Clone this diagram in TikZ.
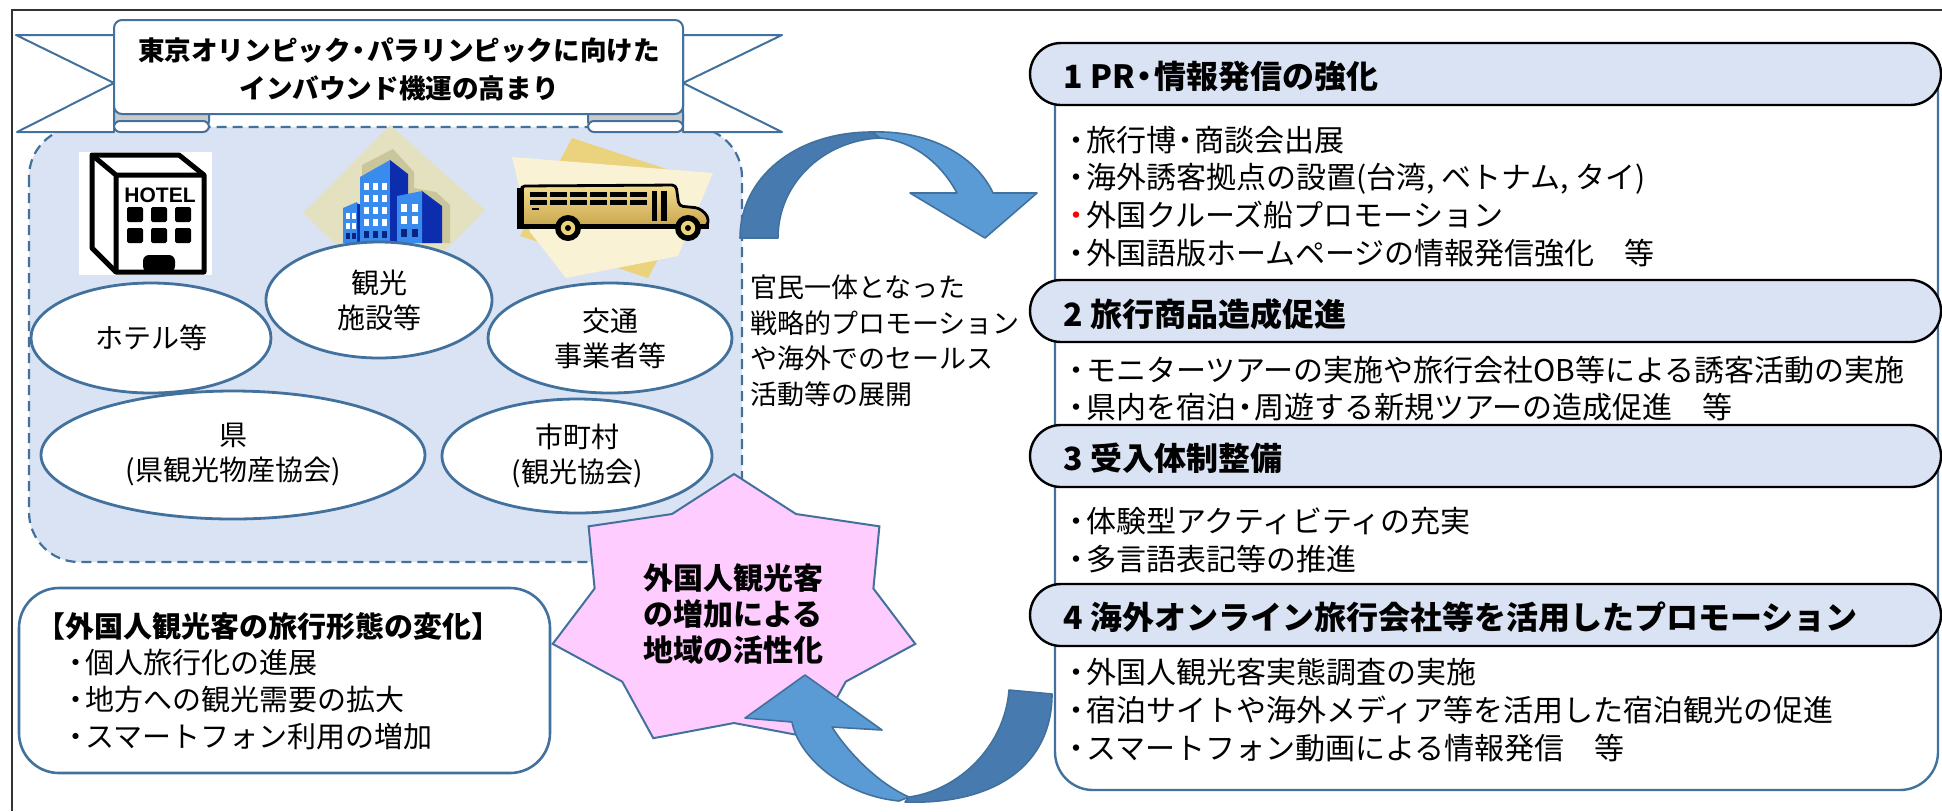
\documentclass[tikz,border=0pt]{standalone}
\usepackage{fontspec}
\setmainfont{Noto Sans CJK JP}
\newfontfamily\signfont{Liberation Sans}
\usetikzlibrary{shapes.geometric}

\definecolor{edgeblue}{HTML}{41719C}
\definecolor{paleblue}{HTML}{DAE3F3}
\definecolor{arrowlight}{HTML}{5B9BD5}
\definecolor{arrowdark}{HTML}{477BB0}
\definecolor{starpink}{HTML}{FFCCFF}
\definecolor{rollgrey}{HTML}{C9C9C9}
\definecolor{citybeige}{HTML}{E3E1BF}
\definecolor{cityshade}{HTML}{CAC69C}
\definecolor{cityfront}{HTML}{3A8BEE}
\definecolor{cityside}{HTML}{0B2DAE}
\definecolor{citywin}{HTML}{0A237F}
\definecolor{busgold}{HTML}{EBD27C}
\definecolor{buscream}{HTML}{FAF2D5}
\definecolor{bustop}{HTML}{F3DD90}
\definecolor{busbottom}{HTML}{C9A64E}

% narrow middle dot used for bullets and separators
\newcommand{\ndot}{\makebox[0.62em][c]{・}}

\tikzset{
  outline/.style={draw=edgeblue, line width=1pt},
  panel/.style={draw=edgeblue, fill=paleblue, line width=1.1pt,
    dash pattern=on 5pt off 3pt, rounded corners=25pt},
  spot/.style={ellipse, draw=edgeblue, line width=1.4pt, fill=white,
    inner sep=0pt, align=center, font=\fontsize{14pt}{17.5pt}\selectfont},
  headerbox/.style={draw=black, line width=1.2pt, fill=paleblue, rounded corners=15.5pt},
  headtext/.style={anchor=west, inner sep=0pt, font=\bfseries\fontsize{16pt}{19pt}\selectfont},
  itemtext/.style={anchor=west, inner sep=0pt, align=left,
    font=\fontsize{15pt}{18.8pt}\selectfont},
  arrowpart/.style={draw=edgeblue, line width=0.8pt, line join=round},
}

\begin{document}
\begin{tikzpicture}[x=0.5pt,y=-0.5pt]
\useasboundingbox (0,0) rectangle (1942,811);

% page frame
\draw[line width=1pt, black!80] (12,811) -- (12,10) -- (1942,10);

% stakeholder panel
\draw[panel] (29,127) rectangle (742,562);

% hotel icon
\fill[white] (79,152) rectangle (212,275);
\draw[line width=2.5pt, line join=round] (92,155) -- (179,155) -- (204,175) -- (204,272) -- (116,272) -- (92,248) -- cycle;
\draw[line width=2.5pt, line join=round] (92,155) -- (116,175) -- (204,175) (116,175) -- (116,272);
\node[font=\signfont\bfseries\fontsize{10.5pt}{10.5pt}\selectfont, inner sep=0pt] (hotelsign) at (160,195) {HOTEL};
\foreach \wx in {127,151,175} \foreach \wy in {207,228}
  \fill[rounded corners=0.8pt] ({\wx},{\wy}) rectangle ({\wx+16},{\wy+15});
\fill[rounded corners=3pt] (143,272) -- (143,255) -- (175,255) -- (175,272) -- cycle;

% city buildings
\fill[citybeige] (390,125) -- (485,210) -- (395,300) -- (303,213) -- cycle;
\fill[cityshade] (362,165) -- (393,149) -- (414,172) -- (414,188) -- (436,192) -- (450,205) -- (450,243) -- (362,243) -- cycle;
\fill[cityside] (356,203) -- (362,205) -- (362,243) -- (356,243) -- cycle;
\fill[cityfront] (343,208) -- (357,202) -- (357,243) -- (343,243) -- cycle;
\fill[cityfront] (360,177) -- (390,160) -- (390,243) -- (360,243) -- cycle;
\fill[cityside] (390,160) -- (408,174) -- (408,243) -- (390,243) -- cycle;
\fill[cityside] (422,191) -- (442,206) -- (442,243) -- (422,243) -- cycle;
\fill[cityfront] (397,196) -- (422,191) -- (422,243) -- (397,243) -- cycle;
\foreach \wx in {364,373,382} {
  \foreach \wy in {183,195,207,219} \fill[white] ({\wx},{\wy}) rectangle ({\wx+5},{\wy+7});
  \fill[citywin] ({\wx},231) rectangle ({\wx+5},238);
}
\foreach \wx in {346,352} {
  \foreach \wy in {213,223} \fill[white] ({\wx},{\wy}) rectangle ({\wx+4},{\wy+6});
  \fill[citywin] ({\wx},233) rectangle ({\wx+4},239);
}
\foreach \wx in {401,412} {
  \foreach \wy in {204,216} \fill[white] ({\wx},{\wy}) rectangle ({\wx+6},{\wy+8});
  \fill[citywin] ({\wx},229) rectangle ({\wx+6},237);
}

% school bus
\fill[busgold] (572,138) -- (700,180) -- (648,278) -- (520,236) -- cycle;
\fill[buscream] (512,157) -- (713,173) -- (678,256) -- (566,278) -- (530,232) -- cycle;
\filldraw[draw=black, line width=1.4pt, top color=bustop, bottom color=busbottom, rounded corners=2pt]
  (521,186) -- (676,185) -- (679,206) -- (699,208) -- (708,216) -- (708,226) -- (521,226) -- cycle;
\fill[black] (517,188) rectangle (524,229);
\fill[black] (521,224) rectangle (709,229);
\foreach \i in {0,...,5} {
  \fill ({530+\i*20},192) rectangle ({547+\i*20},197);
  \fill ({530+\i*20},200) rectangle ({547+\i*20},205);
}
\fill (532,208) rectangle (539,210);
\fill (652,191) rectangle (657,221);
\fill (661,191) rectangle (667,221);
\foreach \cx in {568,688} {
  \fill[black] ({\cx},228) circle (6.5pt);
  \fill[busgold] ({\cx},228) circle (3.6pt);
  \fill[black] ({\cx},228) circle (1.5pt);
}

% stakeholder ellipses
\node[spot, minimum width=120pt, minimum height=55pt] (hotels) at (151,338) {ホテル等};
\node[spot, minimum width=113pt, minimum height=58pt] (sights) at (379,300) {観光\\施設等};
\node[spot, minimum width=122pt, minimum height=55pt] (transport) at (610,338) {交通\\事業者等};
\node[spot, minimum width=192pt, minimum height=64pt] (prefecture) at (233,455) {県\\(県観光物産協会)};
\node[spot, minimum width=135pt, minimum height=57pt] (towns) at (577,456) {市町村\\(観光協会)};

% ribbon banner: tails
\filldraw[outline, fill=white, line join=round] (16,35) -- (114,35) -- (114,83) -- cycle;
\filldraw[outline, fill=white, line join=round] (114,83) -- (17,132) -- (114,132) -- cycle;
\filldraw[outline, fill=white, line join=round] (683,35) -- (782,35) -- (683,83) -- cycle;
\filldraw[outline, fill=white, line join=round] (683,83) -- (782,132) -- (683,132) -- cycle;
% ribbon banner: rolled ends
\filldraw[outline, fill=rollgrey, rounded corners=3pt] (114,108) -- (209,108) -- (209,127) -- (114,127) -- cycle;
\filldraw[outline, fill=white, rounded corners=3pt] (114,121) -- (209,121) -- (209,132) -- (114,132) -- cycle;
\filldraw[outline, fill=rollgrey, rounded corners=3pt] (588,108) -- (683,108) -- (683,127) -- (588,127) -- cycle;
\filldraw[outline, fill=white, rounded corners=3pt] (588,121) -- (683,121) -- (683,132) -- (588,132) -- cycle;
% ribbon banner: face
\filldraw[outline, fill=white, rounded corners=4pt] (114,20) rectangle (683,114);
\node[font=\bfseries\fontsize{13.3pt}{19pt}\selectfont, align=center, inner sep=0pt] (bannertext) at (399,69)
  {東京オリンピック\ndot パラリンピックに向けた\\インバウンド機運の高まり};

% promotion note
\node[anchor=west, inner sep=0pt, align=left, font=\fontsize{13.5pt}{17.8pt}\selectfont] (promo) at (750,341)
  {官民一体となった\\戦略的プロモーション\\や海外でのセールス\\活動等の展開};

% upper curved arrow
\filldraw[arrowpart, fill=arrowdark] (740,238) .. controls (740,178) and (795,132) .. (872,132)
  -- (880,138) .. controls (825,140) and (778,182) .. (778,238) -- cycle;
\filldraw[arrowpart, fill=arrowlight] (872,132) .. controls (935,130) and (978,160) .. (993,193)
  -- (1037,193) -- (985,238) -- (910,193) -- (957,193)
  .. controls (942,165) and (915,141) .. (880,138) -- cycle;

% travel trend box
\draw[outline, line width=1.3pt, fill=white, rounded corners=20pt] (19,588) rectangle (550,773);
\node[anchor=west, inner sep=0pt, font=\bfseries\fontsize{14.5pt}{18pt}\selectfont] (trendtitle) at (36,627)
  {【外国人観光客の旅行形態の変化】};
\node[itemtext, font=\fontsize{14.5pt}{18.5pt}\selectfont] (trenditems) at (67,700)
  {\ndot 個人旅行化の進展\\\ndot 地方への観光需要の拡大\\\ndot スマートフォン利用の増加};

% seven-point star
\filldraw[fill=starpink, draw=edgeblue, line width=1pt, line join=miter]
  (734,474) -- (672,514) -- (588.6,526.3) -- (594.6,588.5) -- (552.7,643.9) -- (622.2,681.6)
  -- (653.3,738.2) -- (734,723) -- (814.7,738.2) -- (845.8,681.6) -- (915.3,643.9)
  -- (873.4,588.5) -- (879.4,526.3) -- (796,514) -- cycle;
\node[align=center, inner sep=0pt, font=\bfseries\fontsize{15pt}{18pt}\selectfont] (gain) at (733,614)
  {外国人観光客\\の増加による\\地域の活性化};

% lower curved arrow
\filldraw[arrowpart, fill=arrowdark] (909,797) .. controls (960,790) and (1005,745) .. (1009,690)
  -- (1052,694) .. controls (1052,765) and (995,805) .. (905,802) -- cycle;
\filldraw[arrowpart, fill=arrowlight] (745,718) -- (805,675) -- (882,730) -- (832,727)
  .. controls (845,748) and (875,782) .. (909,797) -- (899,801)
  .. controls (840,795) and (798,755) .. (792,722) -- cycle;

% measures panel
\filldraw[outline, line width=1.2pt, fill=white, rounded corners=19pt]
  (1055,75) -- (1055,790) -- (1938,790) -- (1938,75);
\draw[headerbox] (1030,43) rectangle (1941,105);
\draw[headerbox] (1030,280) rectangle (1941,342);
\draw[headerbox] (1030,425) rectangle (1941,487);
\draw[headerbox] (1030,584) rectangle (1941,646);
\node[headtext] (head1) at (1063,76) {1 PR\ndot 情報発信の強化};
\node[headtext] (head2) at (1063,314) {2 旅行商品造成促進};
\node[headtext] (head3) at (1063,458) {3 受入体制整備};
\node[headtext] (head4) at (1063,617) {4 海外オンライン旅行会社等を活用したプロモーション};

\node[itemtext] (items1) at (1067,196.5)
  {\ndot 旅行博\ndot 商談会出展\\\ndot 海外誘客拠点の設置(台湾, ベトナム, タイ)\\\textcolor{red}{\ndot}外国クルーズ船プロモーション\\\ndot 外国語版ホームページの情報発信強化　等};
\node[itemtext] (items2) at (1067,388.5)
  {\ndot モニターツアーの実施や旅行会社OB等による誘客活動の実施\\\ndot 県内を宿泊\ndot 周遊する新規ツアーの造成促進　等};
\node[itemtext] (items3) at (1067,540)
  {\ndot 体験型アクティビティの充実\\\ndot 多言語表記等の推進};
\node[itemtext] (items4) at (1067,710)
  {\ndot 外国人観光客実態調査の実施\\\ndot 宿泊サイトや海外メディア等を活用した宿泊観光の促進\\\ndot スマートフォン動画による情報発信　等};

\end{tikzpicture}
\end{document}
